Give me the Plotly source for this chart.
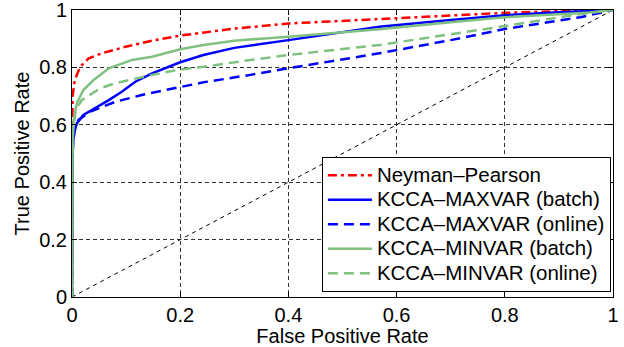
import plotly.graph_objects as go

# ---- data ----
np_fpr = [0, 0, 0.001, 0.005, 0.015, 0.031, 0.055, 0.099, 0.148, 0.2, 0.3, 0.4, 0.57, 0.7, 0.8, 0.9, 1.0]
np_tpr = [0, 0.62, 0.698, 0.756, 0.802, 0.832, 0.849, 0.872, 0.893, 0.911, 0.935, 0.953, 0.969, 0.980, 0.990, 0.996, 1.0]

maxb_fpr = [0, 0, 0.001, 0.003, 0.009, 0.021, 0.043, 0.068, 0.092, 0.117, 0.148, 0.172, 0.2, 0.243, 0.3, 0.4, 0.568, 0.7, 0.8, 0.9, 1.0]
maxb_tpr = [0, 0.45, 0.489, 0.57, 0.605, 0.634, 0.657, 0.686, 0.715, 0.75, 0.779, 0.797, 0.818, 0.843, 0.868, 0.895, 0.942, 0.965, 0.982, 0.992, 1.0]

maxo_fpr = [0, 0, 0.002, 0.006, 0.012, 0.034, 0.080, 0.129, 0.191, 0.243, 0.33, 0.4, 0.568, 0.7, 0.8, 0.94, 1.0]
maxo_tpr = [0, 0.45, 0.54, 0.59, 0.617, 0.646, 0.680, 0.704, 0.728, 0.748, 0.774, 0.797, 0.849, 0.895, 0.934, 0.975, 1.0]

minb_fpr = [0, 0, 0.001, 0.003, 0.009, 0.021, 0.040, 0.068, 0.111, 0.148, 0.172, 0.2, 0.243, 0.3, 0.4, 0.568, 0.7, 0.8, 0.95, 1.0]
minb_tpr = [0, 0.45, 0.547, 0.617, 0.675, 0.721, 0.756, 0.797, 0.826, 0.837, 0.849, 0.863, 0.878, 0.893, 0.907, 0.933, 0.957, 0.975, 0.990, 1.0]

mino_fpr = [0, 0, 0.002, 0.007, 0.018, 0.052, 0.080, 0.117, 0.148, 0.195, 0.243, 0.33, 0.4, 0.568, 0.7, 0.8, 0.925, 1.0]
mino_tpr = [0, 0.45, 0.58, 0.652, 0.686, 0.727, 0.745, 0.762, 0.774, 0.791, 0.802, 0.826, 0.843, 0.878, 0.915, 0.944, 0.982, 1.0]

chance = [0, 1]

tick_vals = [0, 0.2, 0.4, 0.6, 0.8, 1]
tick_text = ["0", "0.2", "0.4", "0.6", "0.8", "1"]

series_names = ["Neyman–Pearson", "KCCA–MAXVAR (batch)", "KCCA–MAXVAR (online)",
                "KCCA–MINVAR (batch)", "KCCA–MINVAR (online)"]

RED = "#FF0000"
BLUE = "#0000FF"
GREEN = "#80C080"
LEG_TEXT = '<span style="font-size:20.5px">{}</span>'

fig = go.Figure()
fig.add_trace(go.Scatter(x=chance, y=chance, mode="lines", showlegend=False,
                         line=dict(color="black", width=1, dash="4px,4px"), hoverinfo="skip"))
fig.add_trace(go.Scatter(x=np_fpr, y=np_tpr, mode="lines", name=LEG_TEXT.format(series_names[0]),
                         line=dict(color=RED, width=2.5, dash="9px,4px,3px,4px")))
fig.add_trace(go.Scatter(x=maxb_fpr, y=maxb_tpr, mode="lines", name=LEG_TEXT.format(series_names[1]),
                         line=dict(color=BLUE, width=2.5)))
fig.add_trace(go.Scatter(x=maxo_fpr, y=maxo_tpr, mode="lines", name=LEG_TEXT.format(series_names[2]),
                         line=dict(color=BLUE, width=2.5, dash="10px,6px")))
fig.add_trace(go.Scatter(x=minb_fpr, y=minb_tpr, mode="lines", name=LEG_TEXT.format(series_names[3]),
                         line=dict(color=GREEN, width=2.5)))
fig.add_trace(go.Scatter(x=mino_fpr, y=mino_tpr, mode="lines", name=LEG_TEXT.format(series_names[4]),
                         line=dict(color=GREEN, width=2.5, dash="10px,6px")))

FONT = "Liberation Sans, Arial, Helvetica, sans-serif"
FS = 20
axis_common = dict(
    range=[0, 1], tickvals=tick_vals, ticktext=tick_text, automargin=False,
    showline=True, linecolor="black", linewidth=1, mirror="ticks",
    ticks="inside", ticklen=5, tickcolor="black", ticklabeloverflow="allow",
    showgrid=True, gridcolor="rgba(0,0,0,0.8)", gridwidth=1, griddash="4px,3px",
    zeroline=False, tickfont=dict(size=FS, color="black", family=FONT),
)

fig.update_layout(
    width=624, height=347,
    margin=dict(l=72, r=11, t=10, b=50),
    paper_bgcolor="white", plot_bgcolor="white",
    font=dict(family=FONT, size=FS, color="black"),
    xaxis=dict(title=dict(text="False Positive Rate", standoff=0, font=dict(size=FS)), **axis_common),
    yaxis=dict(title=dict(text="True Positive Rate", standoff=4, font=dict(size=FS)), **axis_common),
    legend=dict(x=0.729, xanchor="center", y=0.017, yanchor="bottom",
                bgcolor="white", bordercolor="black", borderwidth=1,
                font=dict(size=16.5, family=FONT), itemwidth=44, tracegroupgap=0),
    showlegend=True,
)

fig.write_html("out.html", config={"displayModeBar": False},
               post_script="document.body.style.margin='0';")
